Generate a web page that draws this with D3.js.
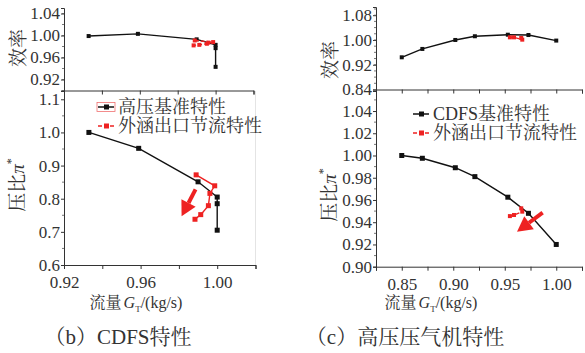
<!DOCTYPE html>
<html>
<head>
<meta charset="utf-8">
<script src="https://cdn.jsdelivr.net/npm/d3@7"></script>
<style>
  body { margin: 0; background: #fff; }
  svg text { font-family: "Liberation Serif", "Noto Serif CJK SC", "Noto Sans CJK SC", serif; fill: #333; }
</style>
</head>
<body>
<svg id="chart" width="585" height="353"></svg>
<script>
// (b) CDFS characteristic
const cdfsFlow = [0.933, 0.959, 0.990, 1.000, 1.000, 1.000];
const cdfsEff  = [0.999, 1.003, 0.993, 0.983, 0.977, 0.943];
const cdfsPr   = [1.000, 0.952, 0.851, 0.805, 0.785, 0.705];
const cdfsThrFlow = [0.989, 0.9987, 0.9962, 0.9954, 0.9914, 0.9884];
const cdfsThrEff  = [0.991, 0.988, 0.987, 0.985, 0.983, 0.982];
const cdfsThrPr   = [0.872, 0.839, 0.816, 0.779, 0.752, 0.738];
const cdfsArrow   = [[0.9887, 0.828], [0.9814, 0.747]];

// (c) HPC characteristic
const hpcFlow = [0.850, 0.870, 0.902, 0.921, 0.953, 0.973, 1.000];
const hpcEff  = [0.944, 0.971, 1.000, 1.012, 1.017, 1.016, 0.998];
const hpcPr   = [1.000, 0.9975, 0.989, 0.981, 0.9625, 0.948, 0.920];
const hpcThrFlow = [0.955, 0.959, 0.967, 0.966];
const hpcThrEff  = [1.0085, 1.0085, 1.001, 1.0065];
const hpcThrPr   = [0.9455, 0.9465, 0.9495, 0.9525];
const hpcArrow   = [[0.9868, 0.9486], [0.9619, 0.9315]];

// ticks
const bFlowTicks = [0.92, 0.96, 1.00];
const bEffTicks  = [0.92, 0.96, 1.00, 1.04];
const bPrTicks   = [0.6, 0.7, 0.8, 0.9, 1.0, 1.1];
const cFlowTicks = [0.85, 0.90, 0.95, 1.00];
const cEffTicks  = [0.84, 0.92, 1.00, 1.08];
const cPrTicks   = [0.90, 0.92, 0.94, 0.96, 0.98, 1.00, 1.02, 1.04];

const svg = d3.select("#chart");
const black = "#111";
const red = "#ee2222";

function zip(a, b) { return a.map((v, i) => [v, b[i]]); }

function drawAxes(g, x, y, o) {
	// left axis
	const yAxis = d3.axisLeft(y).tickValues(o.yTicks).tickSize(3).tickPadding(1).tickFormat(d3.format(o.yFmt));
	const ya = g.append("g").attr("transform", `translate(${x.range()[0]},0)`).call(yAxis);
	ya.selectAll(".tick line").attr("stroke", "#333");
	ya.select(".domain").attr("stroke", "#333");
	ya.selectAll("text").attr("font-size", 17);
	// minor ticks on y
	g.append("g").selectAll("line")
		.data(d3.range(o.yMinor[0], o.yMinor[1] + 1e-9, o.yMinor[2]))
		.join("line")
		.attr("x1", x.range()[0]).attr("x2", x.range()[0] - 2)
		.attr("y1", d => y(d)).attr("y2", d => y(d))
		.attr("stroke", "#555").attr("stroke-width", 0.8);
	// bottom axis
	const xAxis = d3.axisBottom(x).tickValues(o.xMinorTicks).tickSize(4).tickFormat(o.xLabels ? (d => o.xLabels.some(v => Math.abs(v - d) < 1e-6) ? d3.format(".2f")(d) : "") : "");
	const xa = g.append("g").attr("transform", `translate(0,${y.range()[0]})`).call(xAxis);
	xa.select(".domain").attr("stroke", "#333");
	xa.selectAll(".tick line").attr("stroke", "#333");
	xa.selectAll("text").attr("font-size", 17).attr("dy", "0.95em");
	if (o.rightLine) {
		g.append("line")
			.attr("x1", x.range()[1]).attr("x2", x.range()[1])
			.attr("y1", y.range()[0]).attr("y2", y.range()[1])
			.attr("stroke", "#e4e4e4");
	}
}

function drawSeries(g, x, y, pts, color, dashed, size) {
	g.append("path")
		.datum(pts)
		.attr("fill", "none")
		.attr("stroke", color)
		.attr("stroke-width", 1.4)
		.attr("stroke-dasharray", dashed ? "4,2" : null)
		.attr("d", d3.line().x(d => x(d[0])).y(d => y(d[1])));
	g.append("g").selectAll("rect")
		.data(pts)
		.join("rect")
		.attr("x", d => x(d[0]) - size / 2)
		.attr("y", d => y(d[1]) - size / 2)
		.attr("width", size).attr("height", size)
		.attr("fill", color);
}

function drawArrow(g, x, y, a) {
	const x0 = x(a[0][0]), y0 = y(a[0][1]), x1 = x(a[1][0]), y1 = y(a[1][1]);
	const ang = Math.atan2(y1 - y0, x1 - x0);
	const hl = 15, hw = 8;
	const bx = x1 - hl * Math.cos(ang), by = y1 - hl * Math.sin(ang);
	g.append("line")
		.attr("x1", x0).attr("y1", y0).attr("x2", bx).attr("y2", by)
		.attr("stroke", red).attr("stroke-width", 4);
	g.append("path")
		.attr("d", `M${x1},${y1}L${bx + hw * Math.sin(ang)},${by - hw * Math.cos(ang)}L${bx - hw * Math.sin(ang)},${by + hw * Math.cos(ang)}Z`)
		.attr("fill", red);
}

function yTitle(g, cx, cy, withPi) {
	const t = g.append("text")
		.attr("transform", `translate(${cx},${cy}) rotate(-90)`)
		.attr("text-anchor", "middle")
		.attr("dy", "0.35em")
		.attr("font-size", 19)
		.attr("fill", "#444");
	if (withPi) {
		t.append("tspan").text("压比");
		t.append("tspan").text("π").attr("font-style", "italic");
		t.append("tspan").text("*").attr("font-size", 12).attr("dy", "-0.7em");
	} else {
		t.text("效率");
	}
}

function xTitle(g, cx, cy) {
	const t = g.append("text")
		.attr("x", cx).attr("y", cy)
		.attr("text-anchor", "middle")
		.attr("font-size", 16);
	t.append("tspan").text("流量");
	t.append("tspan").text("G").attr("font-style", "italic").attr("dx", 2);
	t.append("tspan").text("T").attr("font-size", 9).attr("dy", 4);
	t.append("tspan").text("/(kg/s)").attr("dy", -4);
}

function legend(g, lx, ly, labels, boxFirst) {
	labels.forEach((lab, i) => {
		const yy = ly + i * 19;
		const c = i === 0 ? black : red;
		if (i === 0 && boxFirst) {
			g.append("rect").attr("x", lx - 1).attr("y", yy - 4.5).attr("width", 18).attr("height", 9)
				.attr("fill", "none").attr("stroke", "#f07070").attr("stroke-width", 0.8);
		}
		g.append("line").attr("x1", lx).attr("x2", lx + 16).attr("y1", yy).attr("y2", yy)
			.attr("stroke", c).attr("stroke-width", 1.5).attr("stroke-dasharray", i === 0 ? null : "4,2");
		g.append("rect").attr("x", lx + 6).attr("y", yy - 2.5).attr("width", 5).attr("height", 5).attr("fill", c);
		g.append("text").attr("x", lx + 20).attr("y", yy).attr("dy", "0.35em")
			.attr("font-size", 18).text(lab);
	});
}

// ---------- panel (b) ----------
const gb = svg.append("g");
const xbTop = d3.scaleLinear().domain([0.92, 1.02]).range([64, 253.5]);
const xbBot = d3.scaleLinear().domain([0.92, 1.02]).range([64, 255.5]);
const ybTop = d3.scaleLinear().domain([0.90, 1.05]).range([90.5, 8]);
const ybBot = d3.scaleLinear().domain([0.6, 1.125]).range([265, 91]);

drawAxes(gb, xbTop, ybTop, { yTicks: bEffTicks, yFmt: ".2f", yMinor: [0.90, 1.04, 0.02], xMinorTicks: d3.range(0.92, 1.021, 0.02), xLabels: null });
drawAxes(gb, xbBot, ybBot, { yTicks: bPrTicks, yFmt: ".1f", yMinor: [0.65, 1.1, 0.1], xMinorTicks: d3.range(0.92, 1.021, 0.02), xLabels: bFlowTicks, rightLine: true });
drawSeries(gb, xbTop, ybTop, zip(cdfsFlow, cdfsEff), black, false, 4);
drawSeries(gb, xbTop, ybTop, zip(cdfsThrFlow, cdfsThrEff), red, true, 4);
drawSeries(gb, xbBot, ybBot, zip(cdfsFlow, cdfsPr), black, false, 5);
drawSeries(gb, xbBot, ybBot, zip(cdfsThrFlow, cdfsThrPr), red, false, 5);
drawArrow(gb, xbBot, ybBot, cdfsArrow);
yTitle(gb, 18, 48, false);
yTitle(gb, 17, 185, true);
legend(gb, 98, 107, ["高压基准特性", "外涵出口节流特性"], true);
xTitle(gb, 136, 308);
gb.append("text").attr("x", 118).attr("y", 344).attr("text-anchor", "middle").attr("font-size", 21).text("（b）CDFS特性");

// ---------- panel (c) ----------
const gc = svg.append("g");
const xc = d3.scaleLinear().domain([0.825, 1.025]).range([376, 582]);
const ycTop = d3.scaleLinear().domain([0.84, 1.1065]).range([89.5, 7]);
const ycBot = d3.scaleLinear().domain([0.90, 1.058]).range([266.7, 91]);

drawAxes(gc, xc, ycTop, { yTicks: cEffTicks, yFmt: ".2f", yMinor: [0.86, 1.10, 0.02], xMinorTicks: d3.range(0.825, 1.026, 0.025), xLabels: null });
drawAxes(gc, xc, ycBot, { yTicks: cPrTicks, yFmt: ".2f", yMinor: [0.91, 1.05, 0.02], xMinorTicks: d3.range(0.825, 1.026, 0.025), xLabels: cFlowTicks });
drawSeries(gc, xc, ycTop, zip(hpcFlow, hpcEff), black, false, 4);
drawSeries(gc, xc, ycTop, zip(hpcThrFlow, hpcThrEff), red, true, 4);
drawSeries(gc, xc, ycBot, zip(hpcFlow, hpcPr), black, false, 5);
drawSeries(gc, xc, ycBot, zip(hpcThrFlow, hpcThrPr), red, true, 4);
drawArrow(gc, xc, ycBot, hpcArrow);
yTitle(gc, 330, 60, false);
yTitle(gc, 329, 195, true);
legend(gc, 413, 114, ["CDFS基准特性", "外涵出口节流特性"], false);
xTitle(gc, 431, 308);
gc.append("text").attr("x", 405).attr("y", 344).attr("text-anchor", "middle").attr("font-size", 21).text("（c）高压压气机特性");
</script>
</body>
</html>
